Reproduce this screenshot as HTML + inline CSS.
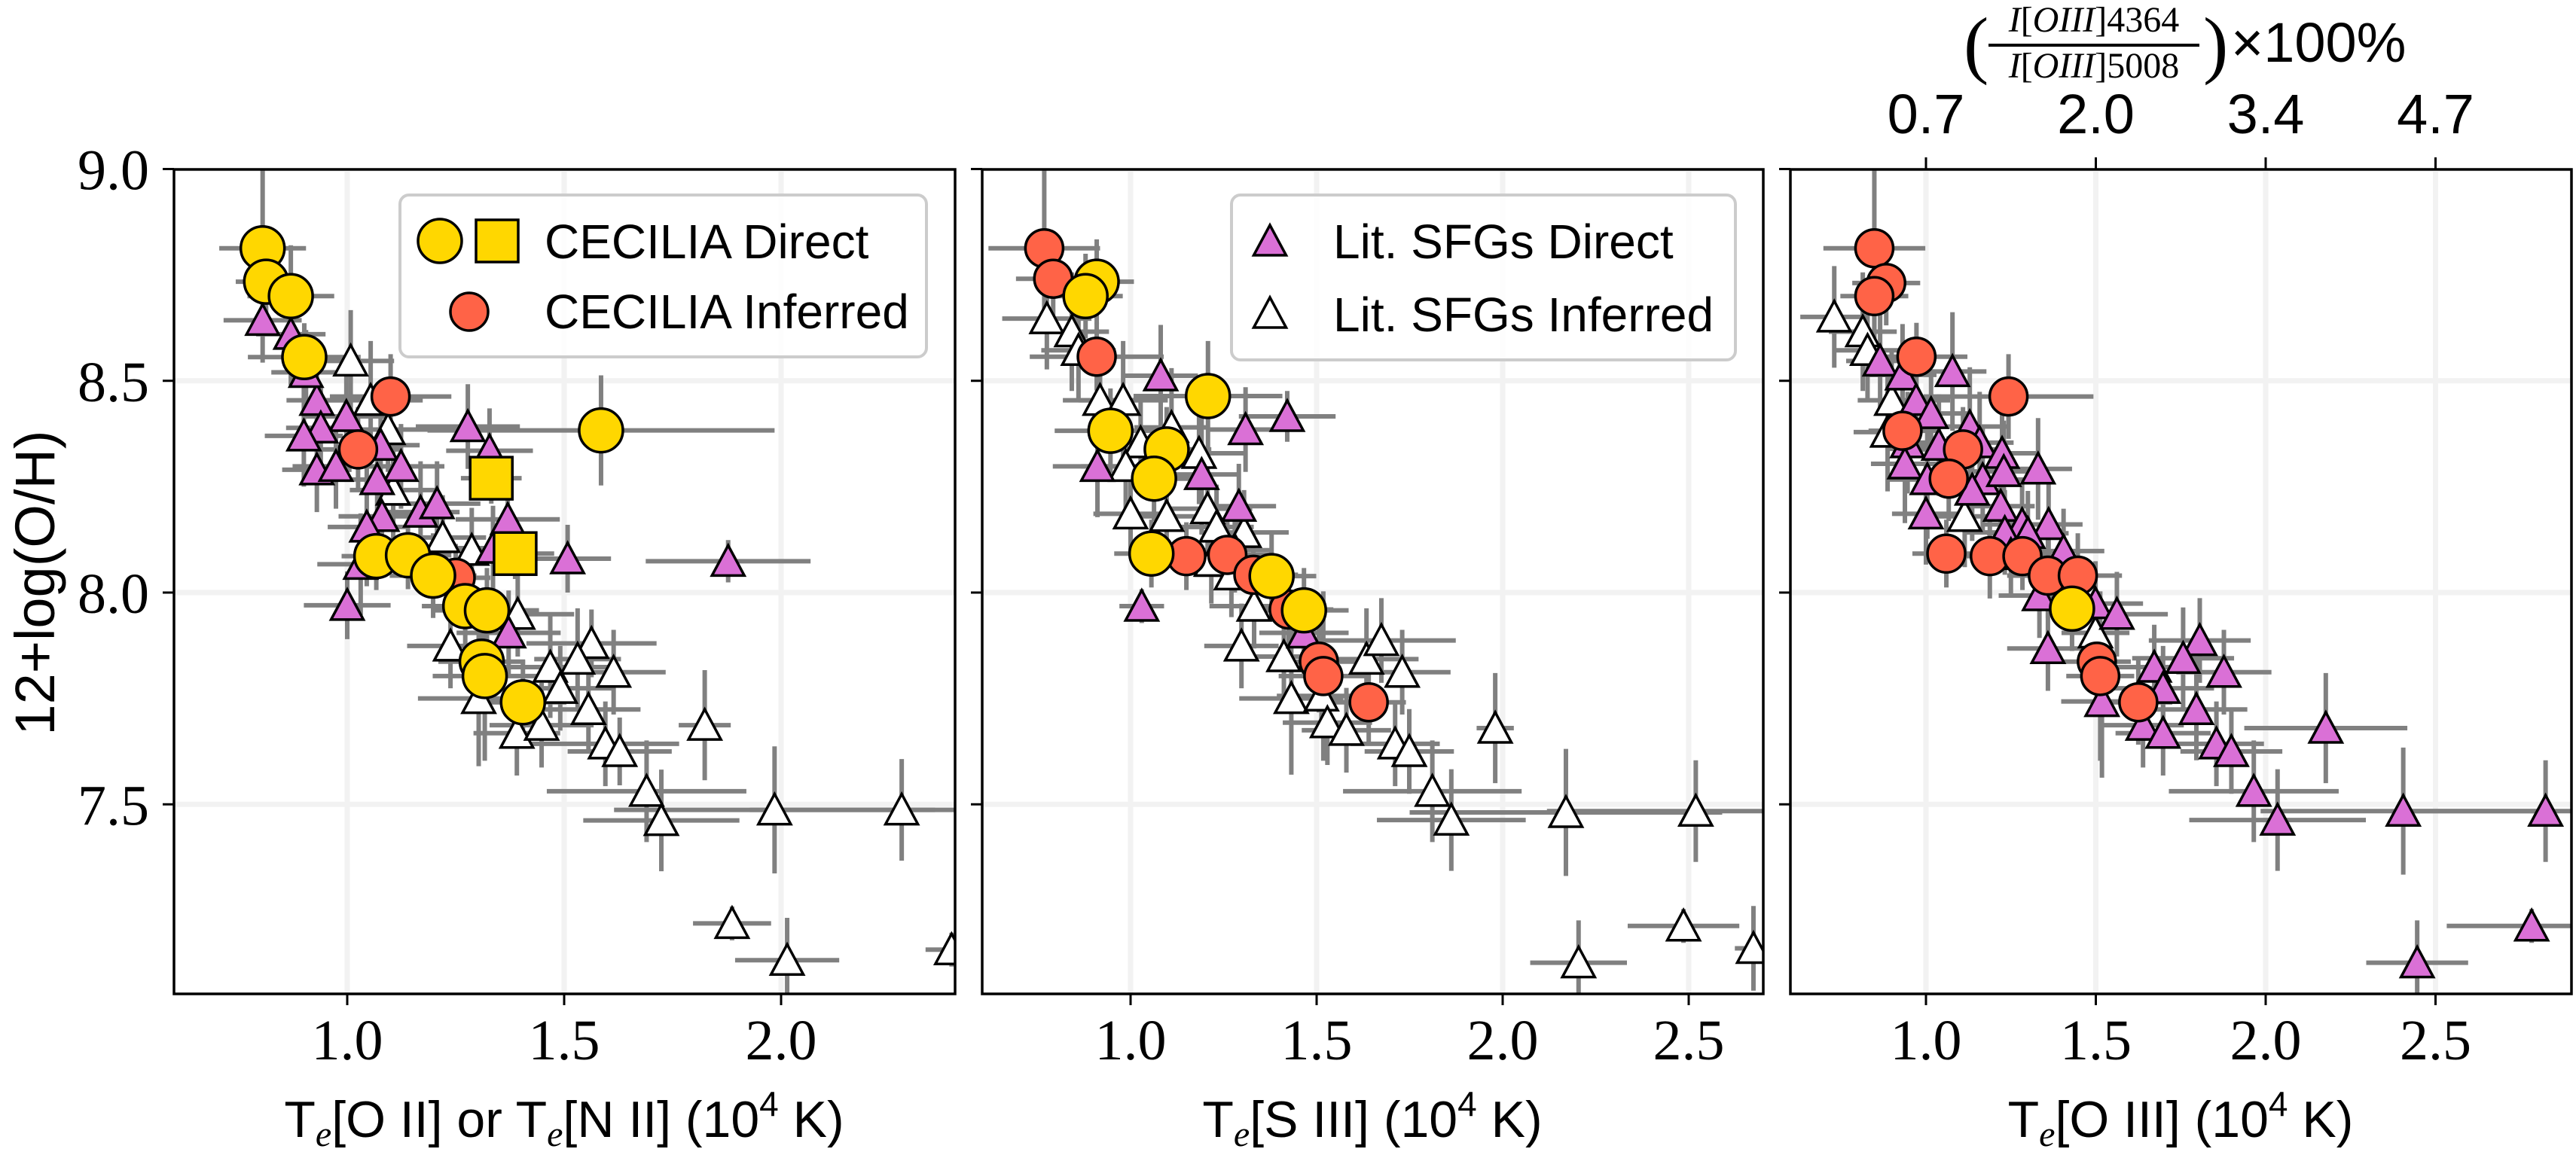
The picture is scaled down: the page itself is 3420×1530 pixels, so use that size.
<!DOCTYPE html>
<html><head><meta charset="utf-8">
<style>
html,body{margin:0;padding:0;background:#fff;}
svg{display:block;}
</style></head>
<body>
<svg id="chart" xmlns="http://www.w3.org/2000/svg" width="3420" height="1530" viewBox="0 0 3420 1530">
<rect x="0" y="0" width="3420" height="1530" fill="#ffffff"/>
<g id="layer"></g>
<g font-family="'Liberation Sans', sans-serif" fill="#000">
  <text x="0" y="0" font-size="74" text-anchor="middle" transform="translate(72,774) rotate(-90)">12+log(O/H)</text>
  <text x="749" y="1510" font-size="68" text-anchor="middle">T<tspan font-family="'Liberation Serif', serif" font-style="italic" font-size="48" dy="12">e</tspan><tspan dy="-12">[O II] or T</tspan><tspan font-family="'Liberation Serif', serif" font-style="italic" font-size="48" dy="12">e</tspan><tspan dy="-12">[N II] (10</tspan><tspan font-size="46" dy="-28">4</tspan><tspan dy="28"> K)</tspan></text>
  <text x="1822" y="1510" font-size="68" text-anchor="middle">T<tspan font-family="'Liberation Serif', serif" font-style="italic" font-size="48" dy="12">e</tspan><tspan dy="-12">[S III] (10</tspan><tspan font-size="46" dy="-28">4</tspan><tspan dy="28"> K)</tspan></text>
  <text x="2895" y="1510" font-size="68" text-anchor="middle">T<tspan font-family="'Liberation Serif', serif" font-style="italic" font-size="48" dy="12">e</tspan><tspan dy="-12">[O III] (10</tspan><tspan font-size="46" dy="-28">4</tspan><tspan dy="28"> K)</tspan></text>
</g>
<g fill="#000">
  <text x="2607" y="92" font-family="'Liberation Serif', serif" font-size="100">(</text>
  <text x="2780" y="42" font-family="'Liberation Serif', serif" font-size="48" text-anchor="middle"><tspan font-style="italic">I</tspan>[<tspan font-style="italic">OIII</tspan>]4364</text>
  <line x1="2640" y1="60" x2="2920" y2="60" stroke="#000" stroke-width="4"/>
  <text x="2780" y="103" font-family="'Liberation Serif', serif" font-size="48" text-anchor="middle"><tspan font-style="italic">I</tspan>[<tspan font-style="italic">OIII</tspan>]5008</text>
  <text x="2925" y="92" font-family="'Liberation Serif', serif" font-size="100">)</text>
  <text x="2962" y="82" font-family="'Liberation Sans', sans-serif" font-size="74">×100%</text>
</g>
<g>
  <rect x="531" y="259" width="699" height="215" rx="12" fill="#fff" fill-opacity="0.8" stroke="#cccccc" stroke-width="4"/>
  <circle cx="584" cy="320" r="29" fill="#ffd700" stroke="#000" stroke-width="3.5"/>
  <rect x="632" y="292" width="56" height="56" fill="#ffd700" stroke="#000" stroke-width="3.5"/>
  <text x="723" y="343" font-family="'Liberation Sans', sans-serif" font-size="64">CECILIA Direct</text>
  <circle cx="623" cy="414" r="25" fill="#ff6347" stroke="#000" stroke-width="3.5"/>
  <text x="723" y="436" font-family="'Liberation Sans', sans-serif" font-size="64">CECILIA Inferred</text>
</g>
<g>
  <rect x="1635" y="259" width="669" height="219" rx="12" fill="#fff" fill-opacity="0.8" stroke="#cccccc" stroke-width="4"/>
  <polygon points="1686,299 1664.5,339 1707.5,339" fill="#da70d6" stroke="#000" stroke-width="3.5"/>
  <text x="1770" y="343" font-family="'Liberation Sans', sans-serif" font-size="64">Lit. SFGs Direct</text>
  <polygon points="1686,395 1664.5,435 1707.5,435" fill="#ffffff" stroke="#000" stroke-width="3.5"/>
  <text x="1770" y="440" font-family="'Liberation Sans', sans-serif" font-size="64">Lit. SFGs Inferred</text>
</g>
</svg>
<script>
// ---------- shared ----------
const yTicks = [7.5, 8.0, 8.5, 9.0];
const yTickLabels = ["7.5", "8.0", "8.5", "9.0"];
const topTickTe = [1.0, 1.5, 2.0, 2.5];
const topTickLabels = ["0.7", "2.0", "3.4", "4.7"];
const p1Ticks = [1.0, 1.5, 2.0];
const p2Ticks = [1.0, 1.5, 2.0, 2.5];
const p3Ticks = [1.0, 1.5, 2.0, 2.5];

// ---------- panel 1 : Te[O II] / Te[N II] ----------
const p1YelX = [0.805,0.813,0.870,0.901,1.585,1.067,1.140,1.198,1.272,1.322,1.310,1.317,1.405];
const p1YelY = [8.813,8.734,8.700,8.556,8.383,8.086,8.088,8.040,7.968,7.958,7.837,7.803,7.741];
const p1YelXe = [0.10,0.07,0.10,0.13,0.40,0.08,0.10,0.10,0.10,0.12,0.10,0.12,0.10];
const p1YelYe = [0.20,0.10,0.12,0.08,0.13,0.08,0.08,0.10,0.10,0.10,0.12,0.20,0.10];
const p1SqX = [1.332,1.387];
const p1SqY = [8.270,8.092];
const p1SqXe = [0.07,0.09];
const p1SqYe = [0.06,0.06];
const p1RedX = [1.100,1.025,1.250];
const p1RedY = [8.463,8.338,8.035];
const p1RedXe = [0.14,0.10,0.08];
const p1RedYe = [0.10,0.10,0.08];
const p1MagX = [0.805,0.870,0.930,0.905,0.998,0.939,0.900,0.930,0.974,1.077,1.124,1.069,1.278,1.328,1.169,1.207,1.080,1.045,1.370,1.336,1.508,1.878,1.000,1.372,1.031];
const p1MagY = [8.643,8.610,8.454,8.520,8.416,8.389,8.370,8.290,8.298,8.348,8.298,8.267,8.392,8.335,8.190,8.210,8.180,8.155,8.173,8.105,8.080,8.074,7.970,7.905,8.067];
const p1MagXe = [0.09,0.08,0.07,0.08,0.10,0.08,0.09,0.08,0.10,0.09,0.10,0.08,0.12,0.10,0.09,0.10,0.10,0.09,0.12,0.10,0.10,0.19,0.10,0.12,0.10];
const p1MagYe = [0.10,0.12,0.10,0.10,0.12,0.10,0.12,0.10,0.10,0.14,0.10,0.10,0.10,0.10,0.12,0.10,0.10,0.14,0.10,0.10,0.08,0.05,0.08,0.10,0.12];
const p1WhtX = [1.008,1.054,1.094,1.106,1.220,1.287,1.393,1.238,1.563,1.531,1.614,1.468,1.491,1.556,1.303,1.391,1.448,1.595,1.628,1.824,1.690,1.724,1.985,2.278,1.887,2.014,2.393];
const p1WhtY = [8.547,8.454,8.385,8.242,8.130,8.100,7.949,7.874,7.880,7.843,7.812,7.824,7.774,7.724,7.750,7.668,7.687,7.643,7.625,7.687,7.531,7.462,7.487,7.487,7.219,7.132,7.157];
const p1WhtXe = [0.10,0.12,0.10,0.10,0.10,0.12,0.13,0.10,0.15,0.10,0.12,0.14,0.12,0.12,0.14,0.10,0.12,0.17,0.12,0.06,0.23,0.18,0.37,0.35,0.09,0.12,0.06];
const p1WhtYe = [0.12,0.14,0.10,0.12,0.10,0.10,0.10,0.10,0.08,0.12,0.10,0.12,0.10,0.10,0.16,0.10,0.10,0.10,0.08,0.13,0.12,0.12,0.15,0.12,0.04,0.10,0.04];

// ---------- panel 2 : Te[S III] ----------
const p2YelX = [0.909,0.879,1.208,0.946,1.097,1.063,1.056,1.379,1.466];
const p2YelY = [8.734,8.700,8.464,8.382,8.338,8.269,8.092,8.039,7.958];
const p2YelXe = [0.10,0.10,0.20,0.15,0.12,0.12,0.10,0.12,0.12];
const p2YelYe = [0.10,0.10,0.13,0.10,0.10,0.10,0.08,0.10,0.10];
const p2RedX = [0.768,0.792,0.909,1.150,1.260,1.330,1.506,1.518,1.640,1.425];
const p2RedY = [8.813,8.741,8.557,8.086,8.089,8.042,7.837,7.803,7.741,7.960];
const p2RedXe = [0.15,0.10,0.18,0.12,0.12,0.12,0.12,0.12,0.10,0.12];
const p2RedYe = [0.20,0.10,0.08,0.08,0.08,0.10,0.12,0.20,0.10,0.10];
const p2MagX = [1.081,1.421,1.309,0.911,1.191,1.291,1.030,1.466,1.280];
const p2MagY = [8.512,8.416,8.385,8.298,8.279,8.204,7.968,7.905,8.100];
const p2MagXe = [0.10,0.13,0.10,0.12,0.10,0.10,0.06,0.12,0.10];
const p2MagYe = [0.12,0.06,0.10,0.12,0.14,0.10,0.04,0.10,0.10];
const p2WhtX = [0.775,0.842,0.860,0.918,0.980,1.110,1.027,1.184,0.987,1.000,1.097,1.207,1.231,1.305,1.217,1.271,1.298,1.332,1.412,1.432,1.513,1.529,1.580,1.634,1.674,1.730,1.711,1.749,1.980,1.811,1.862,2.170,2.519,2.204,2.486,2.674];
const p2WhtY = [8.647,8.616,8.572,8.454,8.454,8.390,8.354,8.329,8.298,8.186,8.180,8.198,8.155,8.142,8.074,8.042,7.874,7.968,7.849,7.750,7.756,7.693,7.675,7.843,7.887,7.812,7.643,7.625,7.680,7.531,7.463,7.481,7.484,7.126,7.213,7.160];
const p2WhtXe = [0.12,0.10,0.10,0.10,0.12,0.10,0.12,0.12,0.12,0.10,0.12,0.12,0.10,0.12,0.12,0.10,0.10,0.12,0.14,0.14,0.12,0.12,0.12,0.14,0.20,0.13,0.12,0.12,0.05,0.24,0.20,0.42,0.40,0.13,0.15,0.05];
const p2WhtYe = [0.12,0.14,0.12,0.12,0.14,0.14,0.10,0.12,0.12,0.10,0.10,0.12,0.10,0.10,0.10,0.10,0.10,0.10,0.10,0.18,0.10,0.10,0.10,0.12,0.10,0.10,0.10,0.10,0.13,0.12,0.12,0.15,0.12,0.10,0.04,0.10];

// ---------- panel 3 : Te[O III] ----------
const p3YelX = [1.430];
const p3YelY = [7.962];
const p3YelXe = [0.10];
const p3YelYe = [0.10];
const p3RedX = [0.848,0.883,0.848,0.972,1.243,0.931,1.109,1.067,1.060,1.188,1.284,1.359,1.447,1.503,1.513,1.625];
const p3RedY = [8.813,8.731,8.700,8.557,8.463,8.382,8.338,8.269,8.092,8.086,8.086,8.040,8.040,7.837,7.803,7.741];
const p3RedXe = [0.15,0.10,0.10,0.15,0.25,0.10,0.13,0.10,0.10,0.10,0.10,0.12,0.13,0.10,0.10,0.10];
const p3RedYe = [0.20,0.10,0.10,0.08,0.10,0.10,0.10,0.10,0.08,0.10,0.08,0.10,0.10,0.12,0.20,0.10];
const p3WhtX = [0.730,0.814,0.828,0.899,0.887,1.114,1.499];
const p3WhtY = [8.651,8.616,8.572,8.454,8.379,8.180,7.905];
const p3WhtXe = [0.10,0.10,0.10,0.10,0.10,0.10,0.10];
const p3WhtYe = [0.12,0.14,0.12,0.12,0.14,0.12,0.10];
const p3MagX = [0.865,0.931,1.078,0.971,1.015,0.946,1.038,1.129,1.158,1.224,0.938,1.004,1.167,1.229,1.330,1.136,1.220,1.000,1.283,1.361,1.232,1.300,1.405,1.250,1.334,1.499,1.562,1.359,1.806,1.757,1.672,1.877,1.698,1.518,1.639,1.796,1.698,1.855,1.899,1.965,2.035,2.177,2.405,2.824,2.783,2.446];
const p3MagY = [8.547,8.514,8.522,8.454,8.423,8.354,8.348,8.392,8.354,8.329,8.304,8.267,8.267,8.286,8.292,8.242,8.204,8.186,8.161,8.161,8.142,8.140,8.098,8.090,7.993,7.974,7.949,7.868,7.887,7.845,7.824,7.812,7.774,7.743,7.687,7.724,7.668,7.643,7.625,7.531,7.463,7.680,7.484,7.484,7.213,7.126];
const p3MagXe = [0.10,0.10,0.10,0.10,0.12,0.10,0.12,0.12,0.10,0.10,0.10,0.12,0.12,0.10,0.10,0.10,0.10,0.10,0.12,0.10,0.12,0.12,0.12,0.12,0.12,0.14,0.15,0.12,0.15,0.15,0.14,0.14,0.15,0.12,0.12,0.15,0.14,0.14,0.15,0.25,0.26,0.24,0.42,0.40,0.25,0.15];
const p3MagYe = [0.12,0.12,0.14,0.12,0.10,0.12,0.12,0.14,0.12,0.14,0.14,0.14,0.12,0.12,0.12,0.12,0.10,0.12,0.10,0.10,0.10,0.10,0.10,0.10,0.10,0.10,0.10,0.10,0.10,0.12,0.10,0.10,0.10,0.18,0.10,0.12,0.10,0.10,0.10,0.12,0.12,0.13,0.15,0.12,0.04,0.10];

const NS = "http://www.w3.org/2000/svg";
const layer = document.getElementById('layer');
function mk(tag, attrs, parent) {
  const e = document.createElementNS(NS, tag);
  for (const k in attrs) e.setAttribute(k, attrs[k]);
  (parent || layer).appendChild(e);
  return e;
}
const Y0 = 225, Y1 = 1320;
function yScale(v) { return 787 - (v - 8.0) * 562.5; }

const panels = [
  {name:'panel-te-oii', left:231, right:1268, x1:461, ppu:576, ticks:p1Ticks,
   wht:[p1WhtX,p1WhtY,p1WhtXe,p1WhtYe], mag:[p1MagX,p1MagY,p1MagXe,p1MagYe],
   red:[p1RedX,p1RedY,p1RedXe,p1RedYe], yel:[p1YelX,p1YelY,p1YelXe,p1YelYe], sq:[p1SqX,p1SqY,p1SqXe,p1SqYe]},
  {name:'panel-te-siii', left:1304, right:2341, x1:1501, ppu:494, ticks:p2Ticks,
   wht:[p2WhtX,p2WhtY,p2WhtXe,p2WhtYe], mag:[p2MagX,p2MagY,p2MagXe,p2MagYe],
   red:[p2RedX,p2RedY,p2RedXe,p2RedYe], yel:[p2YelX,p2YelY,p2YelXe,p2YelYe], sq:null},
  {name:'panel-te-oiii', left:2377, right:3414, x1:2557, ppu:451, ticks:p3Ticks,
   wht:[p3WhtX,p3WhtY,p3WhtXe,p3WhtYe], mag:[p3MagX,p3MagY,p3MagXe,p3MagYe],
   red:[p3RedX,p3RedY,p3RedXe,p3RedYe], yel:[p3YelX,p3YelY,p3YelXe,p3YelYe], sq:null}
];

panels.forEach((p, pi) => {
  const xs = v => p.x1 + (v - 1.0) * p.ppu;
  const g = mk('g', {});
  
  
  const clipId = 'clip' + pi;
  const cp = mk('clipPath', {id: clipId}, g);
  mk('rect', {x: p.left, y: Y0, width: p.right - p.left, height: Y1 - Y0}, cp);
  const grid = mk('g', {'clip-path': 'url(#' + clipId + ')'}, g);
  
  
  p.ticks.forEach(t => mk('line', {x1: xs(t), x2: xs(t), y1: Y0, y2: Y1, stroke: '#f2f2f2', 'stroke-width': 7}, grid));
  yTicks.forEach(t => mk('line', {x1: p.left, x2: p.right, y1: yScale(t), y2: yScale(t), stroke: '#f2f2f2', 'stroke-width': 7}, grid));
  const plot = mk('g', {'clip-path': 'url(#' + clipId + ')'}, g);
  function errs(s, nm) {
    if (!s) return;
    const eg = mk('g', {}, plot);
    
    
    for (let i = 0; i < s[0].length; i++) {
      const cx = xs(s[0][i]), cy = yScale(s[1][i]);
      mk('line', {x1: xs(s[0][i] - s[2][i]), x2: xs(s[0][i] + s[2][i]), y1: cy, y2: cy, stroke: '#808080', 'stroke-width': 6}, eg);
      mk('line', {x1: cx, x2: cx, y1: yScale(s[1][i] - s[3][i]), y2: yScale(s[1][i] + s[3][i]), stroke: '#808080', 'stroke-width': 6}, eg);
    }
  }
  errs(p.wht, 'lit-inferred'); errs(p.mag, 'lit-direct'); errs(p.red, 'cecilia-inferred'); errs(p.yel, 'cecilia-direct'); errs(p.sq, 'cecilia-direct-square');
  function tris(s, fill, nm) {
    const sg = mk('g', {}, plot);
    
    
    for (let i = 0; i < s[0].length; i++) {
      const cx = xs(s[0][i]), cy = yScale(s[1][i]);
      const e = mk('polygon', {points: cx + ',' + (cy - 21) + ' ' + (cx - 21.5) + ',' + (cy + 19) + ' ' + (cx + 21.5) + ',' + (cy + 19), fill: fill, stroke: '#000', 'stroke-width': 3.5}, sg);
      
      
    }
  }
  function circs(s, fill, r, nm) {
    const sg = mk('g', {}, plot);
    
    
    for (let i = 0; i < s[0].length; i++) {
      const e = mk('circle', {cx: xs(s[0][i]), cy: yScale(s[1][i]), r: r, fill: fill, stroke: '#000', 'stroke-width': 3.5}, sg);
      
      
    }
  }
  tris(p.wht, '#ffffff', 'lit-sfgs-inferred');
  tris(p.mag, '#da70d6', 'lit-sfgs-direct');
  circs(p.red, '#ff6347', 25, 'cecilia-inferred');
  circs(p.yel, '#ffd700', 29, 'cecilia-direct');
  if (p.sq) {
    const sg = mk('g', {}, plot);
    
    
    for (let i = 0; i < p.sq[0].length; i++) {
      const e = mk('rect', {x: xs(p.sq[0][i]) - 28, y: yScale(p.sq[1][i]) - 28, width: 56, height: 56, fill: '#ffd700', stroke: '#000', 'stroke-width': 3.5}, sg);
      
      
    }
  }
  const fr = mk('rect', {x: p.left, y: Y0, width: p.right - p.left, height: Y1 - Y0, fill: 'none', stroke: '#000', 'stroke-width': 3.5}, g);
  
  
  const xt = mk('g', {}, g);
  
  
  p.ticks.forEach(t => {
    mk('line', {x1: xs(t), x2: xs(t), y1: Y1, y2: Y1 + 15, stroke: '#000', 'stroke-width': 3}, xt);
    const tx = mk('text', {x: xs(t), y: 1407, 'font-family': '"Liberation Serif", serif', 'font-size': 76, 'text-anchor': 'middle', fill: '#000'}, xt);
    tx.textContent = t.toFixed(1);
  });
  const yt = mk('g', {}, g);
  
  
  yTicks.forEach((t, i) => {
    mk('line', {x1: p.left - 15, x2: p.left, y1: yScale(t), y2: yScale(t), stroke: '#000', 'stroke-width': 3}, yt);
    if (pi === 0) {
      const tx = mk('text', {x: 198, y: yScale(t) + 27, 'font-family': '"Liberation Serif", serif', 'font-size': 76, 'text-anchor': 'end', fill: '#000'}, yt);
      tx.textContent = yTickLabels[i];
    }
  });
  if (pi === 2) {
    const tt = mk('g', {}, g);
    
    
    topTickTe.forEach((t, i) => {
      mk('line', {x1: xs(t), x2: xs(t), y1: Y0, y2: Y0 - 16, stroke: '#000', 'stroke-width': 3}, tt);
      const tx = mk('text', {x: xs(t), y: 177, 'font-family': '"Liberation Sans", sans-serif', 'font-size': 74, 'text-anchor': 'middle', fill: '#000'}, tt);
      tx.textContent = topTickLabels[i];
    });
  }
});
</script>
</body></html>
